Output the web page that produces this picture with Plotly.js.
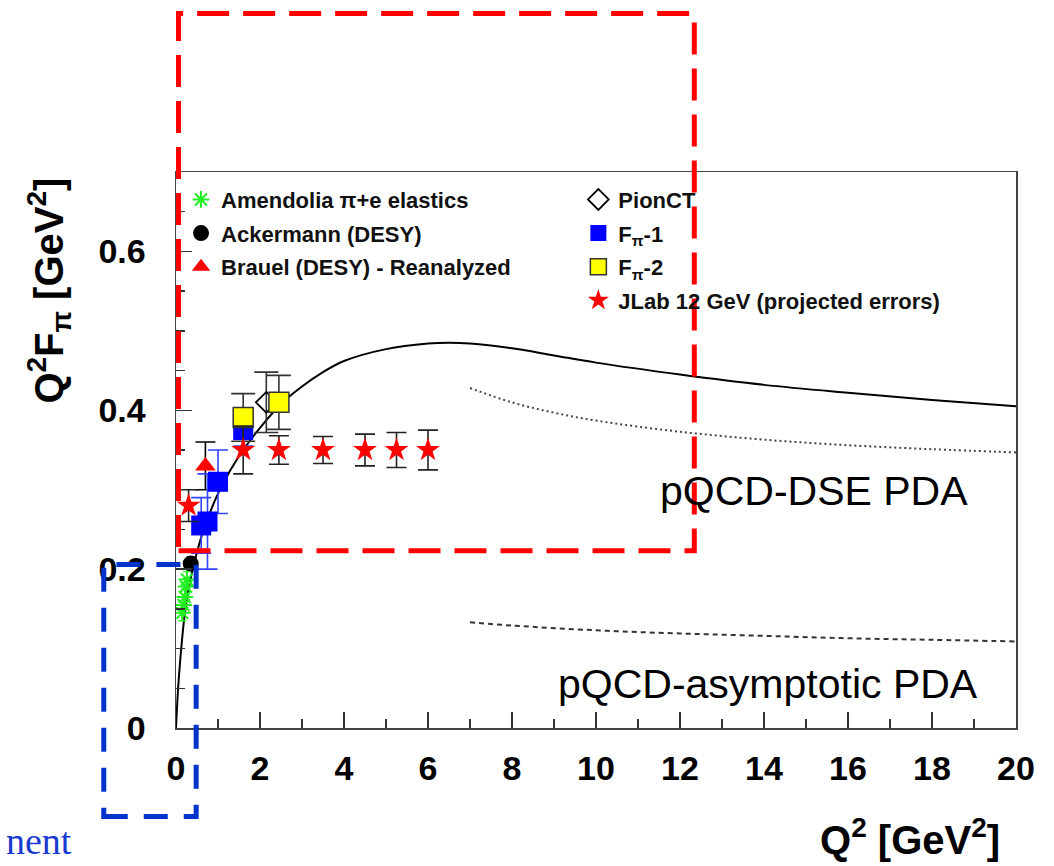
<!DOCTYPE html>
<html><head><meta charset="utf-8">
<script src="https://cdn.plot.ly/plotly-3.0.1.min.js"></script>
<style>html,body{margin:0;padding:0;background:#fff;}#chart{width:1054px;height:866px;}</style>
</head><body><div id="chart"></div>
<script>
// Theory curves
const dseX = [0,0.05,0.1,0.2,0.3,0.4,0.6,0.8,1.0,1.3,1.6,2.0,2.5,3,3.5,4,5,6,6.5,7,8,9,10,12,14,16,18,20];
const dseY = [0,0.05,0.085,0.14,0.175,0.2,0.24,0.27,0.295,0.325,0.35,0.378,0.408,0.43,0.448,0.462,0.477,0.484,0.485,0.484,0.478,0.469,0.46,0.445,0.432,0.422,0.413,0.405];
const pqcdDseX = [7,8,9,10,12,14,16,18,20];
const pqcdDseY = [0.428,0.41,0.397,0.387,0.373,0.363,0.356,0.351,0.347];
const pqcdAsyX = [7,8,10,12,14,16,18,20];
const pqcdAsyY = [0.133,0.129,0.123,0.119,0.116,0.113,0.111,0.109];

// Data sets
const amendoliaX = [0.15,0.18,0.21,0.24,0.26];
const amendoliaY = [0.145,0.155,0.165,0.178,0.187];
const amendoliaE = [0.01,0.01,0.01,0.01,0.01];
const ackermannX = [0.35];
const ackermannY = [0.207];
const ackermannE = [0.008];
const brauelX = [0.7];
const brauelY = [0.33];
const brauelE = [0.03];
const pionctX = [2.15];
const pionctY = [0.41];
const pionctE = [0.038];
const fpi1X = [0.6,0.75,1.0,1.6];
const fpi1Y = [0.255,0.26,0.31,0.375];
const fpi1E = [0.035,0.06,0.04,0.02];
const fpi2X = [1.6,2.45];
const fpi2Y = [0.391,0.41];
const fpi2E = [0.03,0.034];
const jlabX = [0.3,1.6,2.45,3.5,4.5,5.25,6.0];
const jlabY = [0.28,0.35,0.35,0.35,0.35,0.35,0.35];
const jlabE = [0.02,0.03,0.018,0.017,0.02,0.022,0.025];

const F = 'Liberation Sans, Arial, Helvetica, sans-serif';

function errs(arr, col, w){ return {type:'data', array:arr, visible:true, color:col, thickness:1.6, width:w}; }

const traces = [
  {x:dseX, y:dseY, mode:'lines', line:{color:'#000', width:2, shape:'spline'}, showlegend:false, hoverinfo:'skip'},
  {x:pqcdDseX, y:pqcdDseY, mode:'lines', line:{color:'#444', width:2, dash:'2px,3px', shape:'spline'}, showlegend:false},
  {x:pqcdAsyX, y:pqcdAsyY, mode:'lines', line:{color:'#333', width:2, dash:'5px,4px', shape:'spline'}, showlegend:false},
  {x:amendoliaX, y:amendoliaY, error_y:errs(amendoliaE,'#33ff33',4), mode:'markers', name:'Amendolia π+e elastics',
   marker:{symbol:'asterisk-open', size:14, color:'#22ee22', line:{color:'#22ee22', width:2}}, legend:'legend', legendgroup:'a'},
  {x:ackermannX, y:ackermannY, error_y:errs(ackermannE,'#000',4), mode:'markers', name:'Ackermann (DESY)',
   marker:{symbol:'circle', size:16, color:'#000'}, legend:'legend', legendgroup:'b'},
  {x:brauelX, y:brauelY, error_y:errs(brauelE,'#000',10), mode:'markers', name:'Brauel (DESY) - Reanalyzed',
   marker:{symbol:'triangle-up', size:18, color:'#ff0000'}, legend:'legend', legendgroup:'c'},
  {x:pionctX, y:pionctY, error_y:errs(pionctE,'#333',12), mode:'markers', name:'PionCT',
   marker:{symbol:'diamond-open', size:16, color:'#000', line:{color:'#000', width:1.8}}, legend:'legend2', legendgroup:'d'},
  {x:fpi1X, y:fpi1Y, error_y:errs(fpi1E,'#3344ff',10), mode:'markers', name:'F<sub>π</sub>-1',
   marker:{symbol:'square', size:20, color:'#0000ff'}, legend:'legend2', legendgroup:'e'},
  {x:fpi2X, y:fpi2Y, error_y:errs(fpi2E,'#333',12), mode:'markers', name:'F<sub>π</sub>-2',
   marker:{symbol:'square', size:20, color:'#ffff00', line:{color:'#333', width:1.5}}, legend:'legend2', legendgroup:'f'},
  {x:jlabX, y:jlabY, error_y:errs(jlabE,'#222',10), mode:'markers', name:'JLab 12 GeV (projected errors)',
   marker:{symbol:'star', size:18, color:'#ff0000'}, legend:'legend2', legendgroup:'g'}
];

const legFont = {family:F, size:22, weight:'bold', color:'#111'};
const layout = {
  width:1054, height:866,
  margin:{l:176, r:38, t:172, b:138},
  paper_bgcolor:'#fff', plot_bgcolor:'#fff',
  font:{family:F},
  xaxis:{range:[0,20], dtick:2, ticks:'inside', ticklen:16, tickwidth:1.5, tickcolor:'#333',
    showline:true, linecolor:'#444', linewidth:1.5, mirror:true, showgrid:false, zeroline:false,
    tickfont:{family:F, size:34, weight:'bold', color:'#000'}, ticklabelstandoff:10,
    minor:{ticks:'inside', dtick:1, ticklen:9, tickcolor:'#333', tickwidth:1.5}},
  yaxis:{range:[0,0.7], dtick:0.2, ticks:'inside', ticklen:16, tickwidth:1.5, tickcolor:'#333',
    showline:true, linecolor:'#444', linewidth:1.5, mirror:true, showgrid:false, zeroline:false,
    tickfont:{family:F, size:34, weight:'bold', color:'#000'}, ticklabelstandoff:22,
    minor:{ticks:'inside', dtick:0.05, ticklen:9, tickcolor:'#333', tickwidth:1.5}},
  legend:{x:0.006, y:0.988, xanchor:'left', yanchor:'top', bgcolor:'rgba(0,0,0,0)', font:legFont,
    traceorder:'grouped', tracegroupgap:2},
  legend2:{x:0.479, y:0.988, xanchor:'left', yanchor:'top', bgcolor:'rgba(0,0,0,0)', font:legFont,
    traceorder:'grouped', tracegroupgap:2},
  annotations:[
    {xref:'paper', yref:'paper', x:0.7595, y:0.427, xanchor:'center', yanchor:'middle', text:'pQCD-DSE PDA', showarrow:false,
     font:{family:F, size:41, color:'#000'}},
    {xref:'paper', yref:'paper', x:0.705, y:0.079, xanchor:'center', yanchor:'middle', text:'pQCD-asymptotic PDA', showarrow:false,
     font:{family:F, size:41, color:'#000'}},
    {xref:'paper', yref:'paper', x:0.874, y:-0.196, xanchor:'center', yanchor:'middle', text:'Q<sup>2</sup> [GeV<sup>2</sup>]', showarrow:false,
     font:{family:F, size:40, weight:'bold', color:'#000'}},
    {xref:'paper', yref:'paper', x:-0.151, y:0.787, xanchor:'center', yanchor:'middle', text:'Q<sup>2</sup>F<sub>π</sub> [GeV<sup>2</sup>]', showarrow:false,
     textangle:-90, font:{family:F, size:40, weight:'bold', color:'#000'}},
    {xref:'paper', yref:'paper', x:-0.205, y:-0.2036, xanchor:'left', yanchor:'middle', text:'nent', showarrow:false,
     font:{family:'Liberation Serif, Times New Roman, serif', size:38, color:'#1a3ad0'}}
  ],
  shapes:[
    {type:'rect', xref:'paper', yref:'paper', x0:0.003, x1:0.617, y0:0.319, y1:1.285,
     line:{color:'#ff0000', width:5, dash:'32px,14px'}},
    {type:'rect', xref:'paper', yref:'paper', x0:-0.086, x1:0.024, y0:-0.159, y1:0.294,
     line:{color:'#0033cc', width:5, dash:'24px,16px'}}
  ]
};
Plotly.newPlot('chart', traces, layout, {displayModeBar:false, staticPlot:true});
</script></body></html>
